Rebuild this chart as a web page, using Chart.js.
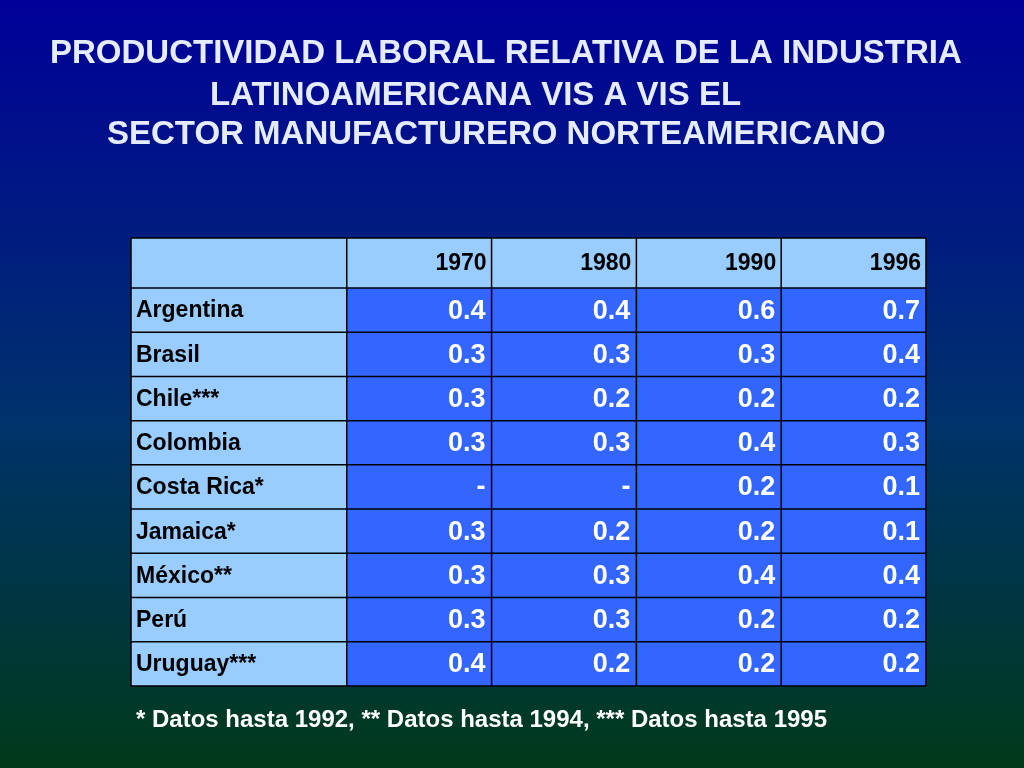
<!DOCTYPE html>
<html><head><meta charset="utf-8">
<script src="https://cdn.jsdelivr.net/npm/chart.js@4"></script>
<style>html,body{margin:0;padding:0;background:#000;}canvas{display:block;}</style>
</head><body>
<canvas id="c" width="1024" height="768"></canvas>
<script>
const years = ["1970","1980","1990","1996"];
const countries = ["Argentina","Brasil","Chile***","Colombia","Costa Rica*","Jamaica*","México**","Perú","Uruguay***"];
const v1970 = [0.4,0.3,0.3,0.3,null,0.3,0.3,0.3,0.4];
const v1980 = [0.4,0.3,0.2,0.3,null,0.2,0.3,0.3,0.2];
const v1990 = [0.6,0.3,0.2,0.4,0.2,0.2,0.4,0.2,0.2];
const v1996 = [0.7,0.4,0.2,0.3,0.1,0.1,0.4,0.2,0.2];
const titleLines = ["PRODUCTIVIDAD LABORAL RELATIVA DE LA INDUSTRIA","LATINOAMERICANA VIS A VIS EL","SECTOR MANUFACTURERO NORTEAMERICANO"];
const footnote = "* Datos hasta 1992, ** Datos hasta 1994, *** Datos hasta 1995";

const series = [v1970,v1980,v1990,v1996];
const LABEL_W = 1.49, HEADER_H = 1.13;
const colEdges = [0, LABEL_W]; years.forEach((_,i)=>colEdges.push(LABEL_W+i+1));
const rowEdges = [0, HEADER_H]; countries.forEach((_,i)=>rowEdges.push(HEADER_H+i+1));
const F = '"Liberation Sans", Arial, sans-serif';

const tablePlugin = {
  id:'table',
  beforeDraw(chart){
    const ctx = chart.ctx, W = chart.width, H = chart.height;
    const g = ctx.createLinearGradient(0,0,0,H);
    g.addColorStop(0,'#000099'); g.addColorStop(0.55,'#00336b'); g.addColorStop(1,'#003a1a');
    ctx.save(); ctx.fillStyle=g; ctx.fillRect(0,0,W,H);
    ctx.fillStyle='#e6ecff'; ctx.font='bold 33px '+F;
    ctx.textBaseline='alphabetic'; ctx.textAlign='left';
    ctx.fillText(titleLines[0],50,63);
    ctx.fillText(titleLines[1],210,105);
    ctx.fillText(titleLines[2],107,144);
    ctx.font='bold 24px '+F;
    ctx.fillStyle='#ffffff';
    ctx.fillText(footnote,136,727);
    ctx.restore();
  },
  afterDraw(chart){
    const ctx = chart.ctx, xs = chart.scales.x, ys = chart.scales.y;
    const X = colEdges.map(v=>xs.getPixelForValue(v));
    const Y = rowEdges.map(v=>ys.getPixelForValue(v));
    ctx.save();
    for(let r=0;r<Y.length-1;r++){
      for(let c=0;c<X.length-1;c++){
        const light = r===0 || c===0;
        ctx.fillStyle = light ? '#99ccff' : '#3366ff';
        ctx.fillRect(X[c],Y[r],X[c+1]-X[c],Y[r+1]-Y[r]);
        ctx.fillStyle='#000';
        ctx.textBaseline='middle';
        const cy=(Y[r]+Y[r+1])/2+1;
        if(r===0 && c>0){
          ctx.font='bold 23px '+F; ctx.textAlign='right';
          ctx.fillText(years[c-1],X[c+1]-5,cy);
        } else if(r>0 && c===0){
          ctx.font='bold 23px '+F; ctx.textAlign='left';
          ctx.fillText(countries[r-1],X[c]+5,cy);
        } else if(r>0){
          const v=series[c-1][r-1];
          ctx.fillStyle='#ffffff';
          ctx.font='bold 27px '+F; ctx.textAlign='right';
          ctx.fillText(v===null?'-':v.toFixed(1),X[c+1]-6,cy);
        }
      }
    }
    ctx.strokeStyle='#000'; ctx.lineWidth=1.5;
    X.forEach(x=>{ctx.beginPath();ctx.moveTo(x,Y[0]);ctx.lineTo(x,Y[Y.length-1]);ctx.stroke();});
    Y.forEach(y=>{ctx.beginPath();ctx.moveTo(X[0],y);ctx.lineTo(X[X.length-1],y);ctx.stroke();});
    ctx.restore();
  }
};

new Chart(document.getElementById('c'),{
  type:'scatter',
  data:{datasets:[{data:[],pointRadius:0}]},
  options:{
    responsive:false, animation:false,
    layout:{padding:{left:131,right:98,top:238,bottom:82}},
    plugins:{legend:{display:false},tooltip:{enabled:false}},
    scales:{
      x:{type:'linear',display:false,min:0,max:colEdges[colEdges.length-1]},
      y:{type:'linear',display:false,reverse:true,min:0,max:rowEdges[rowEdges.length-1]}
    }
  },
  plugins:[tablePlugin]
});
</script>
</body></html>
